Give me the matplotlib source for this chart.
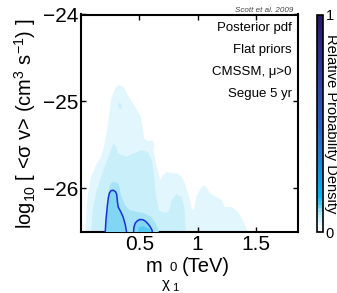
import matplotlib
matplotlib.use("Agg")
import matplotlib.pyplot as plt
from matplotlib.colors import LinearSegmentedColormap, Normalize
from matplotlib.cm import ScalarMappable

plt.rcParams['font.family'] = ['Liberation Sans', 'DejaVu Sans']
plt.rcParams['mathtext.fontset'] = 'custom'
plt.rcParams['mathtext.rm'] = 'Liberation Sans'
plt.rcParams['mathtext.it'] = 'Liberation Sans:italic'

# ---- data ----
xticks = [0.5, 1.0, 1.5]
xticklabels = ["0.5", "1", "1.5"]
yticks = [-24, -25, -26]
yticklabels = ["\u221224", "\u221225", "\u221226"]

# outermost (lowest) probability level
lvl1_x = [0.034, 0.047, 0.060, 0.086, 0.129, 0.171, 0.197, 0.223, 0.243, 0.257, 0.285, 0.308, 0.328,
          0.351, 0.371, 0.428, 0.471, 0.514, 0.529, 0.542, 0.572, 0.614, 0.628, 0.621, 0.643, 0.680,
          0.703, 0.737, 0.788, 0.834, 0.865, 0.891, 0.919, 0.949, 0.968, 0.991, 1.020, 1.048, 1.077,
          1.105, 1.163, 1.208, 1.234, 1.291, 1.345, 1.388, 1.448]
lvl1_y = [-26.55, -26.249, -26.054, -25.870, -25.732, -25.640, -25.525, -25.330, -25.134, -24.985,
          -24.870, -24.824, -24.813, -24.824, -24.847, -24.985, -25.077, -25.180, -25.292, -25.422,
          -25.456, -25.445, -25.483, -25.560, -25.709, -25.905, -25.847, -25.809, -25.824, -25.828,
          -25.870, -25.939, -26.057, -26.230, -26.249, -26.089, -26.020, -25.962, -25.985, -26.054,
          -26.100, -26.134, -26.215, -26.211, -26.269, -26.364, -26.55]

island_x = [0.317, 0.334, 0.351, 0.347, 0.334, 0.321]
island_y = [-25.031, -25.014, -25.037, -25.077, -25.100, -25.066]

lvl2_x = [0.086, 0.100, 0.129, 0.171, 0.214, 0.249, 0.272, 0.285, 0.300, 0.320, 0.392, 0.448, 0.520,
          0.574, 0.608, 0.626, 0.643, 0.668, 0.720, 0.754, 0.777, 0.820, 0.863, 0.887, 0.895, 0.900]
lvl2_y = [-26.55, -26.249, -26.054, -25.870, -25.709, -25.583, -25.502, -25.483, -25.522, -25.598,
          -25.637, -25.598, -25.560, -25.583, -25.675, -25.847, -26.077, -26.249, -26.284, -26.261,
          -26.134, -26.066, -26.100, -26.215, -26.364, -26.55]

lvl3_x = [0.220, 0.229, 0.243, 0.266, 0.291, 0.326, 0.343, 0.377, 0.420, 0.486, 0.542, 0.600, 0.634,
          0.660, 0.677]
lvl3_y = [-26.55, -26.134, -25.974, -25.928, -25.924, -25.951, -26.077, -26.192, -26.249, -26.269,
          -26.284, -26.326, -26.384, -26.456, -26.55]

# credible-region contour (two pieces)
ct1_x = [0.206, 0.214, 0.225, 0.234, 0.243, 0.257, 0.277, 0.296, 0.306, 0.314, 0.320, 0.343, 0.362,
         0.381, 0.397]
ct1_y = [-26.55, -26.364, -26.211, -26.111, -26.054, -26.025, -26.020, -26.037, -26.066, -26.169,
         -26.215, -26.272, -26.330, -26.422, -26.55]
ct2_x = [0.448, 0.454, 0.465, 0.484, 0.506, 0.531, 0.553, 0.574, 0.591, 0.608, 0.620]
ct2_y = [-26.55, -26.445, -26.399, -26.370, -26.356, -26.359, -26.376, -26.405, -26.434, -26.474,
         -26.55]

lvl5_x = [0.480, 0.497, 0.540, 0.591, 0.608]
lvl5_y = [-26.55, -26.445, -26.434, -26.469, -26.55]

labels_right = ["Posterior pdf", "Flat priors", "CMSSM, \u03bc>0", "Segue 5 yr"]

# ---- figure ----
W, H = 337, 293
fig = plt.figure(figsize=(W / 100, H / 100), dpi=100)
ax = fig.add_axes([81 / W, 1 - 232 / H, 217 / W, 217.5 / H])

c1, c2, c3, c4, c5 = '#e2f6fd', '#c9effb', '#a6e3f7', '#80d6f4', '#52c9f0'
ax.fill(lvl1_x, lvl1_y, color=c1, lw=0, zorder=1)
ax.fill(island_x, island_y, color=c2, lw=0, zorder=2)
ax.fill(lvl2_x, lvl2_y, color=c2, lw=0, zorder=2)
ax.fill(lvl3_x, lvl3_y, color=c3, lw=0, zorder=3)
ax.fill(ct1_x, ct1_y, color=c4, lw=0, zorder=4)
ax.fill(ct2_x, ct2_y, color=c4, lw=0, zorder=4)
ax.fill(lvl5_x, lvl5_y, color=c5, lw=0, zorder=5)
ax.plot(ct1_x, ct1_y, color='#1a2fe0', lw=1.1, zorder=6)
ax.plot(ct2_x, ct2_y, color='#1a2fe0', lw=1.1, zorder=6)

ax.set_xlim(0.0, 1.862)
ax.set_ylim(-26.5, -24.0)
ax.set_xticks(xticks)
ax.set_xticklabels(xticklabels)
ax.set_yticks(yticks)
ax.set_yticklabels(yticklabels)
ax.tick_params(direction='in', length=3.5, width=1, top=True, right=True,
               labelsize=15, pad=2)
for s in ax.spines.values():
    s.set_linewidth(1.5)

for lab, yb in zip(labels_right, [31, 53, 75, 96.5]):
    fig.text(291.5 / W, 1 - yb / H, lab, ha='right', va='baseline', fontsize=9.5)
fig.text(293 / W, 1 - 11.5 / H, "Scott et al. 2009", ha='right', va='baseline',
         fontsize=5.8, style='italic', color='#444444')

# y label
fig.text(25 / W, 1 - 124 / H, r"log$_{\mathrm{10}}$ [ <σ v> (cm$^{\mathrm{3}}$ s$^{\mathrm{-1}}$) ]",
         rotation=90, ha='center', va='center', fontsize=14.5)

# x label, pieces
fig.text(146 / W, 1 - 272 / H, "m", ha='left', va='baseline', fontsize=14.5)
fig.text(170 / W, 1 - 271 / H, "0", ha='left', va='baseline', fontsize=9.5)
fig.text(182 / W, 1 - 272 / H, "(TeV)", ha='left', va='baseline', fontsize=14.5)
fig.text(162 / W, 1 - 288 / H, "\u03c7", ha='left', va='baseline', fontsize=11)
fig.text(172 / W, 1 - 291 / H, "1", ha='left', va='baseline', fontsize=8)

# colorbar
cmap = LinearSegmentedColormap.from_list('rel', [
    (0.00, '#ffffff'), (0.03, '#e2f6fd'), (0.06, '#c9effb'), (0.09, '#9fe0f7'),
    (0.12, '#4fc8f0'), (0.16, '#00b8f0'), (0.30, '#1b8ad8'), (0.50, '#2a5fc0'),
    (0.75, '#2f3a9a'), (1.00, '#2c1868')], N=64)
cax = fig.add_axes([317 / W, 1 - 232 / H, 6 / W, 217.5 / H])
cb = fig.colorbar(ScalarMappable(norm=Normalize(0, 1), cmap=cmap), cax=cax)
cb.set_ticks([0, 1])
cb.set_ticklabels(["0", "1"])
cax.tick_params(length=0, labelsize=10.5, pad=2)
cb.outline.set_linewidth(1.2)
fig.text(331.5 / W, 1 - 124 / H, "Relative Probability Density", rotation=270,
         ha='center', va='center', fontsize=10.5)

fig.savefig("out.png", dpi=100)
